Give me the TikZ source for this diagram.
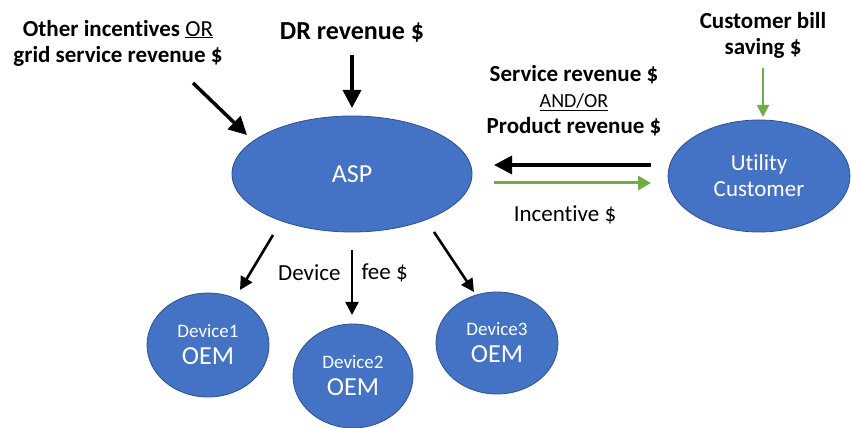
\documentclass[tikz,border=0pt]{standalone}
\usepackage{fontspec}
\setmainfont{Carlito}[Ligatures=NoCommon]
\usepackage{tikz}
\usetikzlibrary{arrows.meta}
\usetikzlibrary{shapes}
\definecolor{aspblue}{HTML}{4472C4}
\definecolor{aspedge}{HTML}{2F528F}
\definecolor{flowgreen}{HTML}{70AD47}

\begin{document}
\begin{tikzpicture}[x=1pt,y=1pt,
    party/.style={ellipse, draw=aspedge, fill=aspblue, line width=0.8pt, inner sep=0pt, text=white, align=center},
    oem/.style={party, font=\fontsize{26}{27}\selectfont},
    flowlbl/.style={align=center, font=\bfseries\fontsize{23}{26}\selectfont},
    thinlbl/.style={font=\fontsize{23}{26}\selectfont},
    bigflow/.style={line width=3.5pt, -{Triangle[length=18pt,width=18pt]}},
    devflow/.style={line width=2.6pt, -{Triangle[length=13pt,width=13pt]}},
    greenflow/.style={draw=flowgreen, line width=3pt, -{Triangle[length=13pt,width=14pt]}}]
      \useasboundingbox (0,0) rectangle (852,428);
      % parties
      \node[party, minimum width=240pt, minimum height=116pt, font=\fontsize{26}{28}\selectfont] (asp) at (352,254) {ASP};
      \node[party, minimum width=182pt, minimum height=112pt, font=\fontsize{23}{26}\selectfont] (cust) at (759,252) {Utility\\Customer};
      \node[oem, minimum width=122pt, minimum height=104pt] (dev1) at (208,83) {{\fontsize{19}{20}\selectfont Device1}\\OEM};
      \node[oem, minimum width=120pt, minimum height=104pt] (dev2) at (353,52) {{\fontsize{19}{20}\selectfont Device2}\\OEM};
      \node[oem, minimum width=122pt, minimum height=102pt] (dev3) at (497,85) {{\fontsize{19}{20}\selectfont Device3}\\OEM};
      % labels
      \node[flowlbl] (other) at (118,385) {Other incentives {\mdseries\underline{OR}}\\grid service revenue \$};
      \node[flowlbl, font=\bfseries\fontsize{26}{28}\selectfont] (dr) at (352,396) {DR revenue \$};
      \node[flowlbl] (serv) at (574,327) {Service revenue \$\\{\mdseries\fontsize{20}{26}\selectfont\underline{AND/OR}}\\Product revenue \$};
      \node[flowlbl] (bill) at (763,393) {Customer bill\\saving \$};
      \node[thinlbl] (inc) at (565,213) {Incentive \$};
      \node[thinlbl, anchor=east] (devlbl) at (344,155) {Device};
      \node[thinlbl, anchor=west] (feelbl) at (358,155) {fee \$};
      % arrow ends
      \coordinate (o0) at (193,345); \coordinate (o1) at (247,293);
      \coordinate (r0) at (352,373); \coordinate (r1) at (352,320);
      \coordinate (s0) at (651,263); \coordinate (s1) at (494,263);
      \coordinate (i0) at (494,245); \coordinate (i1) at (651,245);
      \coordinate (b0) at (763,360); \coordinate (b1) at (763,311);
      \coordinate (d10) at (273,193); \coordinate (d11) at (240,138);
      \coordinate (d20) at (352,178); \coordinate (d21) at (352,113);
      \coordinate (d30) at (434,196); \coordinate (d31) at (474,136);
      % flows
      \draw [bigflow] (o0) -- (o1);
      \draw [bigflow] (r0) -- (r1);
      \draw [bigflow] (s0) -- (s1);
      \draw [greenflow] (i0) -- (i1);
      \draw [greenflow, line width=2pt, -{Triangle[length=12pt,width=12pt]}] (b0) -- (b1);
      \draw [devflow] (d10) -- (d11);
      \draw [devflow] (d20) -- (d21);
      \draw [devflow] (d30) -- (d31);
    \end{tikzpicture}
\end{document}
